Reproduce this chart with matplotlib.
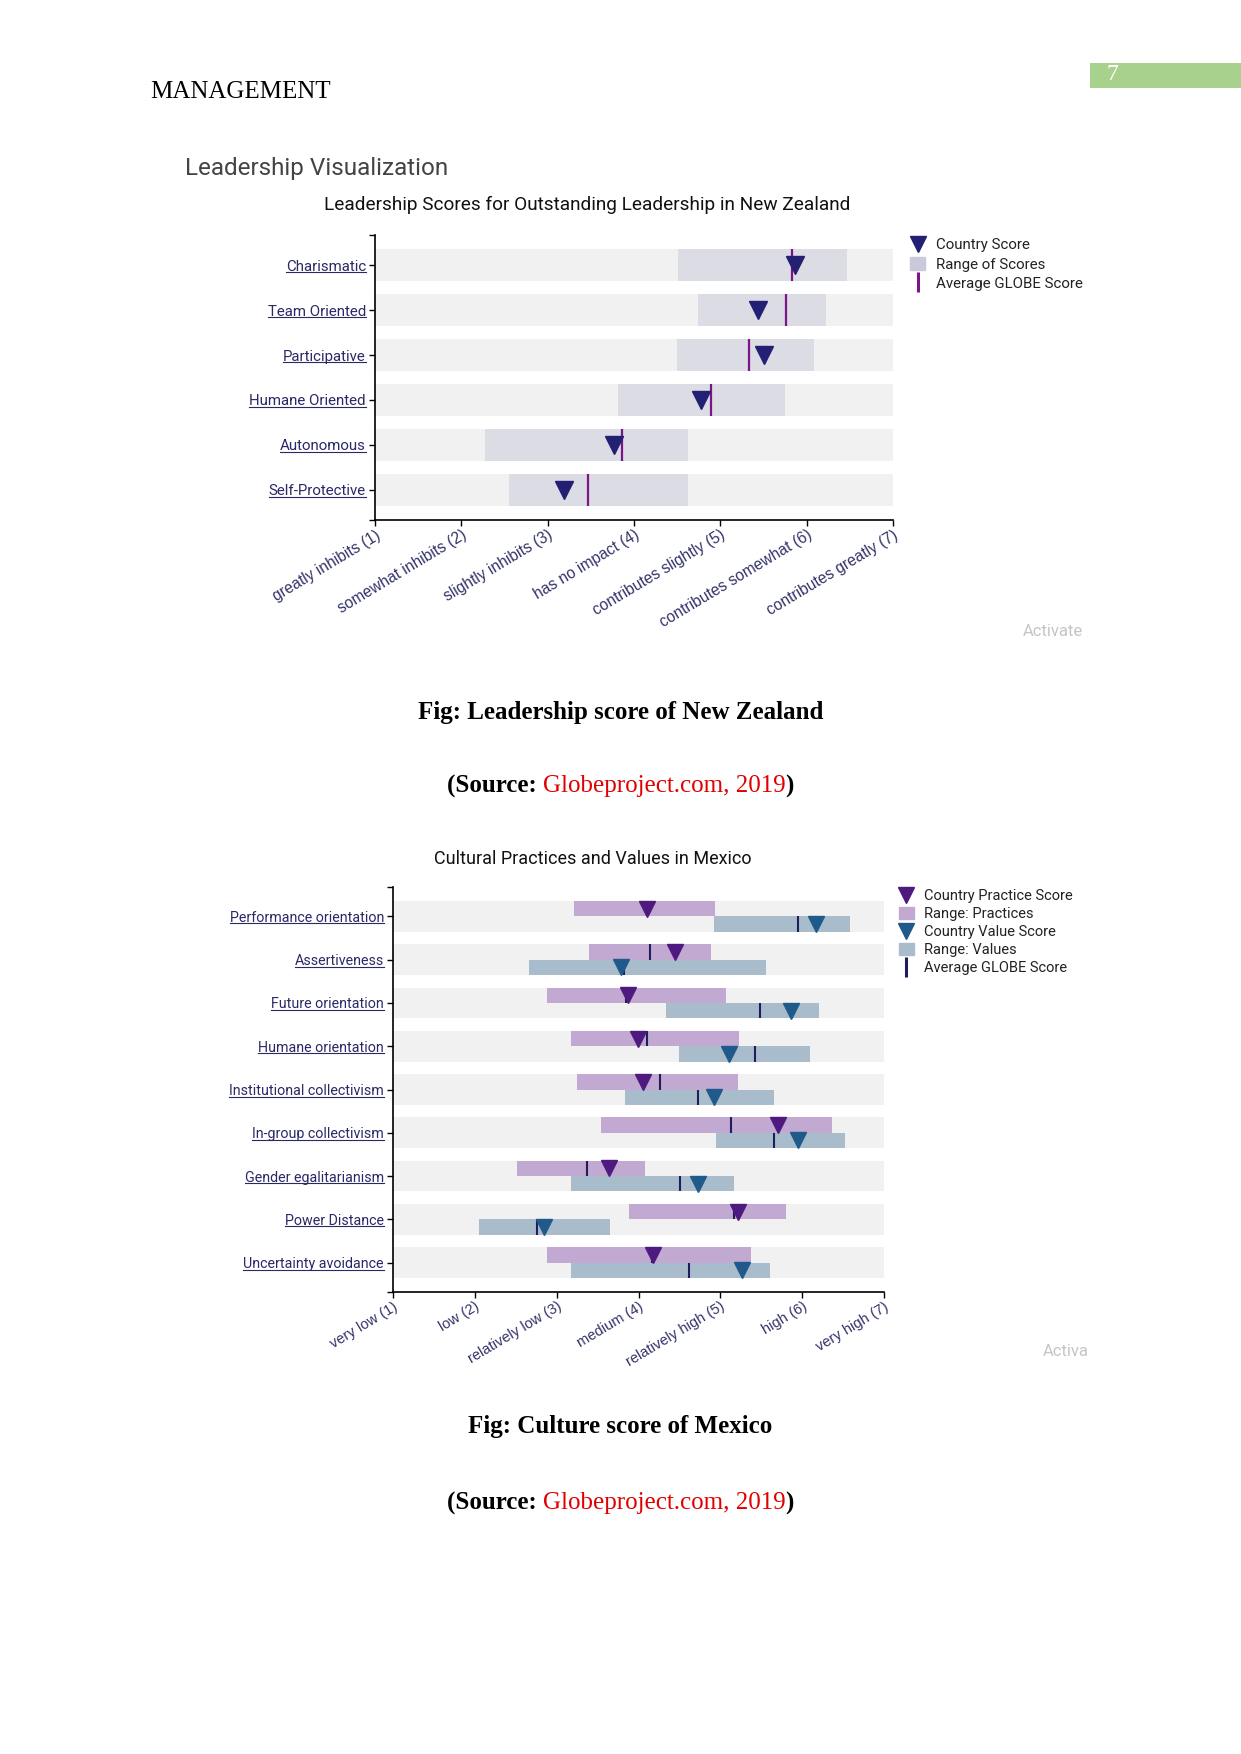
import matplotlib
matplotlib.use("Agg")
import matplotlib.pyplot as plt
from matplotlib.lines import Line2D
from matplotlib.patches import Patch, Rectangle

plt.rcParams['font.family'] = ['Roboto', 'DejaVu Sans']

# --- Leadership scores, New Zealand ---
lead_dims = ['Charismatic', 'Team Oriented', 'Participative', 'Humane Oriented',
             'Autonomous', 'Self-Protective']
lead_score = [5.87, 5.44, 5.50, 4.78, 3.77, 3.19]
lead_avg = [5.83, 5.76, 5.33, 4.89, 3.86, 3.47]
lead_min = [4.51, 4.74, 4.50, 3.82, 2.27, 2.55]
lead_max = [6.47, 6.22, 6.09, 5.75, 4.63, 4.63]
lead_ticks = ['greatly inhibits (1)', 'somewhat inhibits (2)', 'slightly inhibits (3)',
              'has no impact (4)', 'contributes slightly (5)', 'contributes somewhat (6)',
              'contributes greatly (7)']

# --- Cultural practices and values, Mexico ---
cult_dims = ['Performance orientation', 'Assertiveness', 'Future orientation',
             'Humane orientation', 'Institutional collectivism', 'In-group collectivism',
             'Gender egalitarianism', 'Power Distance', 'Uncertainty avoidance']
prac_score = [4.10, 4.45, 3.87, 3.99, 4.06, 5.71, 3.64, 5.22, 4.18]
prac_avg = [4.10, 4.14, 3.85, 4.10, 4.26, 5.13, 3.37, 5.17, 4.17]
prac_min = [3.21, 3.39, 2.88, 3.18, 3.25, 3.54, 2.51, 3.89, 2.88]
prac_max = [4.94, 4.89, 5.07, 5.23, 5.21, 6.37, 4.08, 5.80, 5.37]
val_score = [6.17, 3.79, 5.86, 5.10, 4.92, 5.95, 4.73, 2.85, 5.27]
val_avg = [5.95, 3.82, 5.49, 5.42, 4.73, 5.66, 4.51, 2.76, 4.62]
val_min = [4.92, 2.66, 4.34, 4.49, 3.84, 4.95, 3.18, 2.05, 3.17]
val_max = [6.58, 5.56, 6.21, 6.09, 5.65, 6.52, 5.17, 3.65, 5.61]
cult_ticks = ['very low (1)', 'low (2)', 'relatively low (3)', 'medium (4)',
              'relatively high (5)', 'high (6)', 'very high (7)']

W, H = 1241, 1754
BAND = '#f1f1f1'
NAVY = '#2a2966'
SERIF = ['Liberation Serif', 'DejaVu Serif']
ARIAL = ['Liberation Sans', 'DejaVu Sans']

fig = plt.figure(figsize=(W / 100, H / 100), dpi=100)


def px_axes(x0, y0, x1, y1):
    return fig.add_axes([x0 / W, 1 - y1 / H, (x1 - x0) / W, (y1 - y0) / H])


def style_axes(ax, labels, xticks, n, pad, ysize, xsize):
    ax.set_xlim(1, 7)
    ax.set_ylim(n - 1 + pad, -pad)
    ax.set_yticks(list(range(n)) + [-pad, n - 1 + pad])
    ax.set_yticklabels(labels + ['', ''], fontsize=ysize, color=NAVY)
    ax.set_xticks(range(1, 8))
    ax.set_xticklabels(xticks, rotation=31, ha='right', rotation_mode='anchor',
                       fontsize=xsize, color='#33336a', family=ARIAL)
    ax.tick_params(length=4.5, width=1, pad=2)
    ax.tick_params(axis='x', pad=1)
    for s in ['top', 'right']:
        ax.spines[s].set_visible(False)
    for s in ['left', 'bottom']:
        ax.spines[s].set_linewidth(1.2)
    ax.set_facecolor('none')


# chart 1
ax1 = px_axes(375, 235, 893, 520)
rows = range(len(lead_dims))
h1 = 0.71
ax1.barh(rows, 6, left=1, height=h1, color=BAND, zorder=1)
ax1.barh(rows, [b - a for a, b in zip(lead_min, lead_max)], left=lead_min,
         height=h1, color='#dcdce4', zorder=2)
ax1.vlines(lead_avg, [r - h1 / 2 for r in rows], [r + h1 / 2 for r in rows],
           color='#7a1587', lw=1.6, zorder=3)
ax1.plot(lead_score, list(rows), 'v', ms=13, color='#231f73', zorder=4, ls='none')
style_axes(ax1, lead_dims, lead_ticks, len(lead_dims), 0.67, 10.8, 11.2)

fig.legend(handles=[Line2D([], [], marker='v', ms=11, color='#231f73', ls='none'),
                    Patch(color='#c9c9d9'),
                    Line2D([], [], marker='|', ms=14, mew=2.2, color='#7a1587', ls='none')],
           labels=['Country Score', 'Range of Scores', 'Average GLOBE Score'],
           loc='upper left', bbox_to_anchor=(910 / W, 1 - 238 / H), frameon=False,
           fontsize=10.8, labelspacing=0.32, handlelength=1.0, handleheight=0.9,
           handletextpad=0.7, borderpad=0, borderaxespad=0, labelcolor='#222222')

# chart 2
ax2 = px_axes(393, 887, 884, 1292)
rows2 = list(range(len(cult_dims)))
h2 = 0.71
hh = h2 / 2
ax2.barh(rows2, 6, left=1, height=h2, color=BAND, zorder=1)
ax2.barh([r - hh / 2 for r in rows2], [b - a for a, b in zip(prac_min, prac_max)],
         left=prac_min, height=hh, color='#c2a9d1', zorder=2)
ax2.barh([r + hh / 2 for r in rows2], [b - a for a, b in zip(val_min, val_max)],
         left=val_min, height=hh, color='#a9bccc', zorder=2)
ax2.vlines(prac_avg, [r - hh for r in rows2], rows2, color='#1f1d5c', lw=1.5, zorder=3)
ax2.vlines(val_avg, rows2, [r + hh for r in rows2], color='#1f1d5c', lw=1.5, zorder=3)
ax2.plot(prac_score, [r - hh / 2 for r in rows2], 'v', ms=12, color='#4e1a80',
         ls='none', zorder=4)
ax2.plot(val_score, [r + hh / 2 for r in rows2], 'v', ms=12, color='#1f5a8a',
         ls='none', zorder=4)
style_axes(ax2, cult_dims, cult_ticks, len(cult_dims), 0.68, 10.3, 10.5)

fig.legend(handles=[Line2D([], [], marker='v', ms=11, color='#4e1a80', ls='none'),
                    Patch(color='#c2a9d1'),
                    Line2D([], [], marker='v', ms=11, color='#1f5a8a', ls='none'),
                    Patch(color='#a9bccc'),
                    Line2D([], [], marker='|', ms=14, mew=2.2, color='#1f1d5c', ls='none')],
           labels=['Country Practice Score', 'Range: Practices', 'Country Value Score',
                   'Range: Values', 'Average GLOBE Score'],
           loc='upper left', bbox_to_anchor=(899 / W, 1 - 889 / H), frameon=False,
           fontsize=10.5, labelspacing=0.27, handlelength=1.0, handleheight=0.9,
           handletextpad=0.7, borderpad=0, borderaxespad=0, labelcolor='#222222')

# page text
fig.text(150 / W, 1 - 91.5 / H, 'MANAGEMENT', family=SERIF, fontsize=18, va='center')
fig.add_artist(Rectangle((1090 / W, 1 - 88 / H), 151 / W, 25 / H,
                         transform=fig.transFigure, color='#a9d18e', lw=0))
fig.text(1106 / W, 1 - 75 / H, '7', family=SERIF, fontsize=17, color='white', va='center')
fig.text(185 / W, 1 - 169 / H, 'Leadership Visualization', fontsize=17.5,
         color='#444444', va='center')
fig.text(587 / W, 1 - 205 / H, 'Leadership Scores for Outstanding Leadership in New Zealand',
         fontsize=13.7, color='#111111', ha='center', va='center')
fig.text(593 / W, 1 - 859 / H, 'Cultural Practices and Values in Mexico',
         fontsize=13, color='#111111', ha='center', va='center')
fig.text(1023 / W, 1 - 631 / H, 'Activate', fontsize=12, color='#c4c4c4', va='center')
fig.text(1043 / W, 1 - 1351 / H, 'Activa', fontsize=12, color='#c4c4c4', va='center')

fig.text(0.5, 1 - 712.5 / H, 'Fig: Leadership score of New Zealand', family=SERIF,
         fontsize=18, weight='bold', ha='center', va='center')
fig.text(0.5, 1 - 1426.5 / H, 'Fig: Culture score of Mexico', family=SERIF,
         fontsize=18, weight='bold', ha='center', va='center')

fig.canvas.draw()
renderer = fig.canvas.get_renderer()


def source_line(y):
    parts = [('(Source: ', 'black', 'bold'), ('Globeproject.com, 2019', '#e00000', 'normal'),
             (')', 'black', 'bold')]
    texts = []
    total = 0
    for s, c, wt in parts:
        t = fig.text(0, 1 - y / H, s, family=SERIF, fontsize=18, color=c, weight=wt,
                     va='center')
        w = t.get_window_extent(renderer).width
        texts.append((t, w))
        total += w
    x = (W - total) / 2
    for t, w in texts:
        t.set_x(x / W)
        x += w


source_line(786.5)
source_line(1503)

# underline the category labels
for ax in (ax1, ax2):
    for lbl in ax.get_yticklabels():
        if not lbl.get_text():
            continue
        bb = lbl.get_window_extent(renderer)
        fig.add_artist(Line2D([bb.x0 / W, bb.x1 / W], [(bb.y0 + 1.5) / H] * 2,
                              transform=fig.transFigure, color=NAVY, lw=0.8))

fig.savefig('out.png', dpi=100, facecolor='white')
